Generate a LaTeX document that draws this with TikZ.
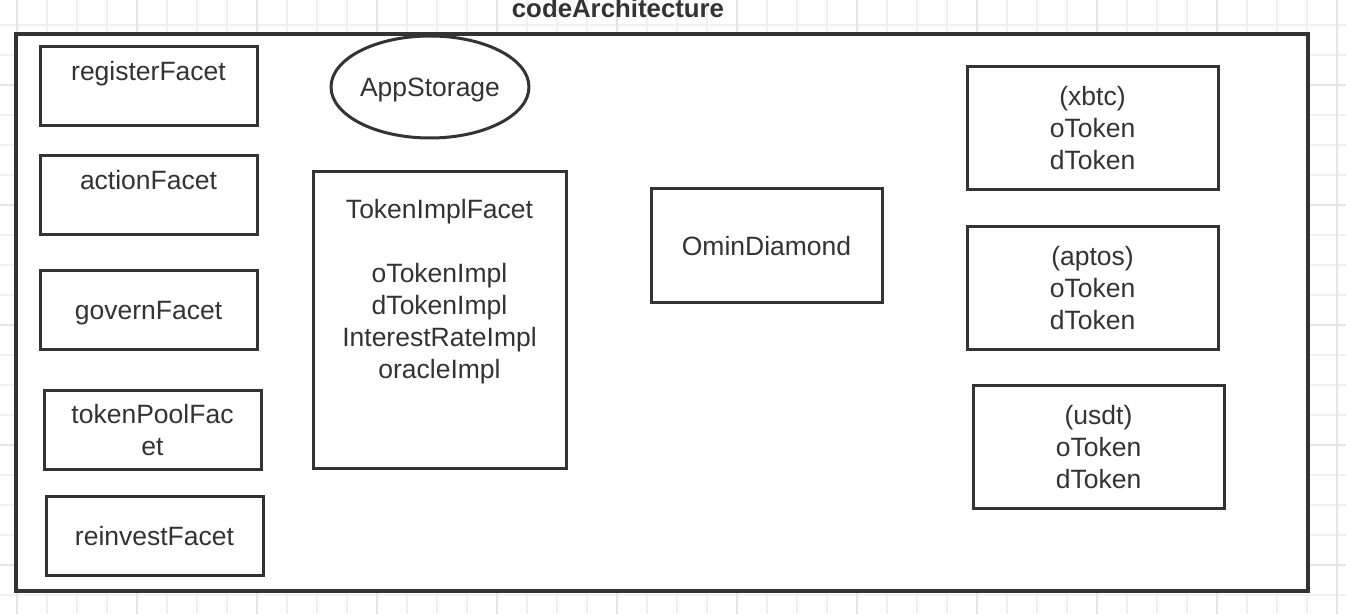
\documentclass[tikz,border=0pt]{standalone}
\usepackage{fontspec}
\setmainfont{Liberation Sans}
\usetikzlibrary{shapes.geometric}
\definecolor{inkgray}{HTML}{333333}
\definecolor{gridminor}{HTML}{F0F0F0}
\definecolor{gridmajor}{HTML}{E4E4E4}
\begin{document}
\begin{tikzpicture} [
      x=0.5pt, y=-0.5pt,
      facet/.style={draw=inkgray, line width=1.5pt, rectangle, minimum width=108.5pt, minimum height=39.5pt, align=center, text=inkgray, inner sep=0pt, font=\fontsize{13.25pt}{16pt}\selectfont},
      token/.style={facet, minimum width=125.5pt, minimum height=61.5pt},
      storage/.style={draw=inkgray, line width=1.5pt, ellipse, minimum width=94pt, minimum height=51pt, inner sep=0pt, text=inkgray, font=\fontsize{13.25pt}{16pt}\selectfont}
   ]
    \useasboundingbox (0, 0) rectangle (1346, 614);
    \fill[white] (0, 0) rectangle (1346, 614);
    \foreach \gx in {17,47,...,1337} \draw[gridminor, line width=0.75pt] (\gx, 0) -- (\gx, 614);
    \foreach \gy in {25,55,...,595} \draw[gridminor, line width=0.75pt] (0, \gy) -- (1346, \gy);
    \foreach \gx in {17,137,...,1337} \draw[gridmajor, line width=0.75pt] (\gx, 0) -- (\gx, 614);
    \foreach \gy in {85,205,...,565} \draw[gridmajor, line width=0.75pt] (0, \gy) -- (1346, \gy);

    \node[draw=inkgray, fill=white, line width=1.7pt, rectangle, minimum width=646pt, minimum height=278.5pt] (ndArchitecture) at (662, 312.5) {};
    \node[anchor=base, text=inkgray, font=\fontsize{12.9pt}{14pt}\selectfont\bfseries] (ndTitle) at (618, 17.5) {codeArchitecture};

    \node[facet] (ndRegister) at (148.5, 86.5) {registerFacet\\ \mbox{}};
    \node[facet, below of=ndRegister, node distance=54.5pt] (ndAction) {actionFacet\\ \mbox{}};
    \node[facet, below of=ndAction, node distance=57.5pt, text depth=0pt] (ndGovern) {governFacet};
    \node[facet, below of=ndGovern, node distance=59.75pt, xshift=2pt] (ndTokenPool) {tokenPoolFac\\et};
    \node[facet, below of=ndTokenPool, node distance=53.25pt, xshift=1pt] (ndReinvest) {reinvestFacet};

    \node[storage, text depth=0pt] (ndAppStorage) at (430, 87) {AppStorage};
    \node[facet, minimum width=126.5pt, minimum height=148.5pt] (ndTokenImpl) at (439.5, 320.5) {
      TokenImplFacet\\ \mbox{}\\
      oTokenImpl\\
      dTokenImpl\\
      InterestRateImpl\\
      oracleImpl\\ \mbox{}\\ \mbox{}
    };

    \node[facet, minimum width=115.5pt, minimum height=57pt] (ndDiamond) at (766.5, 246) {OminDiamond};

    \node[token] (ndXbtc) at (1092.5, 128) {(xbtc)\\ oToken\\ dToken};
    \node[token, below of=ndXbtc, node distance=80pt] (ndAptos) {(aptos)\\ oToken\\ dToken};
    \node[token, below of=ndAptos, node distance=79.75pt, xshift=3pt] (ndUsdt) {(usdt)\\ oToken\\ dToken};
  \end{tikzpicture}
\end{document}
